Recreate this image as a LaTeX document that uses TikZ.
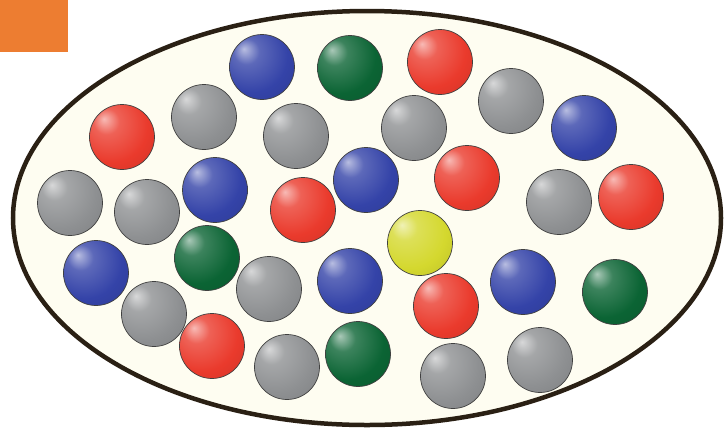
\documentclass[tikz,border=0pt]{standalone}
\usetikzlibrary{shapes.geometric}
\definecolor{redball}{HTML}{EA3A2C}
\definecolor{blueball}{HTML}{3443A8}
\definecolor{greenball}{HTML}{0B6434}
\definecolor{grayball}{HTML}{8E9092}
\definecolor{yellowball}{HTML}{D4D82E}
\definecolor{orangebox}{HTML}{ED7D31}
\definecolor{cream}{HTML}{FEFDF1}
\definecolor{rimline}{HTML}{2A2014}
\newcommand{\mkballshade}[2]{%
  \pgfdeclareradialshading{#1}{\pgfpoint{-14bp}{14bp}}{%
    color(0bp)=(#2!35!white);
    color(10bp)=(#2!80!white);
    color(28bp)=(#2);
    color(50bp)=(#2!85!black);
    color(64bp)=(#2!55!black);
    color(70bp)=(#2!50!black)}}
\mkballshade{shred}{redball}
\mkballshade{shblue}{blueball}
\mkballshade{shgreen}{greenball}
\mkballshade{shgray}{grayball}
\mkballshade{shyellow}{yellowball}
\begin{document}
\begin{tikzpicture}[x=1pt,y=-1pt,
  ballbase/.style={circle,inner sep=0pt,minimum size=65pt,draw=black!75,line width=0.7pt},
  rb/.style={ballbase,shading=shred},
  bb/.style={ballbase,shading=shblue},
  gb/.style={ballbase,shading=shgreen},
  sb/.style={ballbase,shading=shgray},
  yb/.style={ballbase,shading=shyellow}]
\useasboundingbox (0,0) rectangle (725,432);
\fill[white] (0,0) rectangle (725,432);
\node[fill=orangebox,minimum width=68pt,minimum height=52pt,inner sep=0pt,anchor=north west] (box) at (0,0) {};
\node[ellipse,draw=rimline,line width=4.5pt,fill=cream,minimum width=708pt,minimum height=414pt,inner sep=0pt] (cell) at (367,218) {};
\node[bb] (b1) at (262,67) {};
\node[gb] (b2) at (350,68) {};
\node[rb] (b3) at (440,62) {};
\node[sb] (b4) at (511,101) {};
\node[bb] (b5) at (584,128) {};
\node[sb] (b6) at (204,117) {};
\node[rb] (b7) at (122,137) {};
\node[sb] (b8) at (296,136) {};
\node[sb] (b9) at (414,128) {};
\node[bb] (b10) at (366,180) {};
\node[rb] (b11) at (467,178) {};
\node[sb] (b12) at (70,203) {};
\node[sb] (b13) at (147,212) {};
\node[bb] (b14) at (215,190) {};
\node[rb] (b15) at (303,210) {};
\node[sb] (b16) at (559,202) {};
\node[rb] (b17) at (631,197) {};
\node[yb] (b18) at (420,243) {};
\node[bb] (b19) at (96,273) {};
\node[gb] (b20) at (207,258) {};
\node[sb] (b21) at (269,289) {};
\node[bb] (b22) at (350,281) {};
\node[bb] (b23) at (523,282) {};
\node[gb] (b24) at (615,292) {};
\node[sb] (b25) at (154,314) {};
\node[rb] (b26) at (446,306) {};
\node[rb] (b27) at (212,346) {};
\node[sb] (b28) at (287,367) {};
\node[gb] (b29) at (358,354) {};
\node[sb] (b30) at (453,376) {};
\node[sb] (b31) at (540,360) {};
\end{tikzpicture}
\end{document}
